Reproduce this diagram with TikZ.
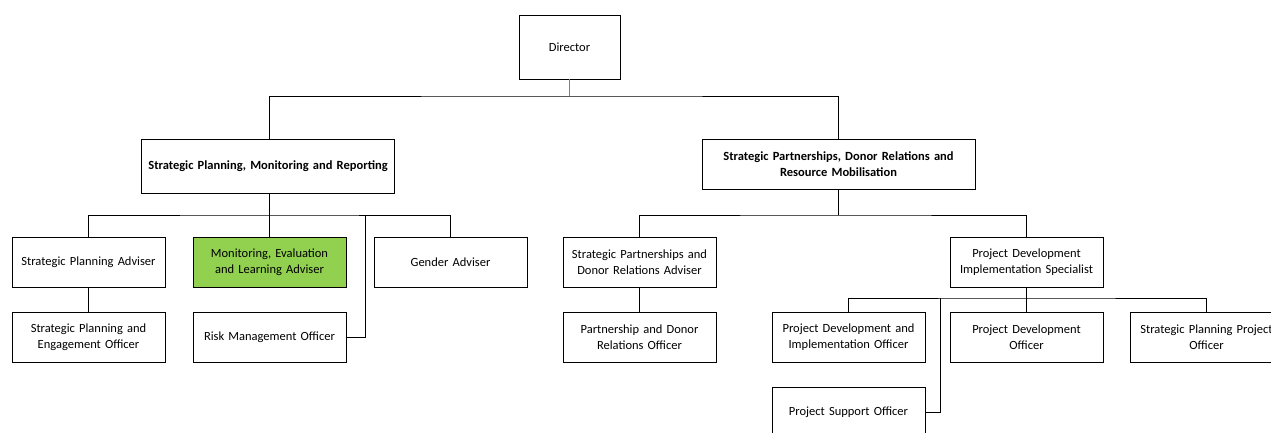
\documentclass[tikz,border=0pt]{standalone}
\usepackage{fontspec}
\setmainfont{Carlito}
\definecolor{melgreen}{HTML}{92D050}
\begin{document}
\begin{tikzpicture}[x=1pt,y=-1pt,
  box/.style={draw=black, line width=0.9pt, fill=white, minimum width=153pt, minimum height=50pt,
    align=center, inner sep=1pt, text width=150pt, font=\fontsize{12.5}{16}\selectfont},
  head/.style={box, font=\fontsize{12.5}{16}\selectfont\bfseries},
  conn/.style={draw=black, line width=0.9pt},
  topconn/.style={draw=black!50, line width=1.8pt}]
\useasboundingbox (0,0) rectangle (1271,432);
% level 0
\node[box, minimum width=101pt, text width=98pt, minimum height=64pt] (dir) at (569.5,47) {Director};
% level 1
\node[head, minimum width=253pt, text width=250pt, minimum height=54pt] (spmr) at (268,166) {Strategic Planning, Monitoring and Reporting};
\node[head, minimum width=273pt, text width=250pt, minimum height=50pt] (spdr) at (838.5,164) {Strategic Partnerships, Donor Relations and\\Resource Mobilisation};
% level 2 left
\node[box] (spa) at (88.5,262) {Strategic Planning Adviser};
\node[box, fill=melgreen] (mel) at (269.5,262) {Monitoring, Evaluation\\and Learning Adviser};
\node[box] (gen) at (450.5,262) {Gender Adviser};
\node[box] (speo) at (88.5,337) {Strategic Planning and\\Engagement Officer};
\node[box] (risk) at (269.5,337) {Risk Management Officer};
% level 2 right
\node[box] (spdra) at (639.5,262) {Strategic Partnerships and\\Donor Relations Adviser};
\node[box] (pdis) at (1026.5,262) {Project Development\\Implementation Specialist};
\node[box] (pdro) at (639.5,337) {Partnership and Donor\\Relations Officer};
% level 3
\node[box] (pdio) at (848.5,337) {Project Development and\\Implementation Officer};
\node[box] (pdo) at (1026.5,337) {Project Development\\Officer};
\node[box] (sppo) at (1206.5,337) {Strategic Planning Project\\Officer};
\node[box] (pso) at (848.5,412) {Project Support Officer};
% junctions
\coordinate (j0) at (569.5,96);
\coordinate (j1) at (269.5,215);
\coordinate (rj) at (365,215);
\coordinate (j2) at (838.5,215);
\coordinate (j3) at (1026.5,298);
\coordinate (pj) at (940,298);
% connectors
\draw[conn] (spmr.north -| j1) |- (j0) -| (spdr.north);
\draw[topconn] (dir.south) -- (j0);
\draw[conn] (spmr.south -| j1) -- (j1);
\draw[conn] (spa.north) |- (j1) -| (gen.north);
\draw[conn] (j1) -- (mel.north);
\draw[conn] (spa.south) -- (speo.north);
\draw[conn] (risk.east) -| (rj);
\draw[conn] (spdr.south) -- (j2);
\draw[conn] (spdra.north) |- (j2) -| (pdis.north);
\draw[conn] (spdra.south) -- (pdro.north);
\draw[conn] (pdis.south) -- (pdo.north);
\draw[conn] (pdio.north) |- (j3) -| (sppo.north);
\draw[conn] (pso.east) -| (pj);
\end{tikzpicture}
\end{document}
